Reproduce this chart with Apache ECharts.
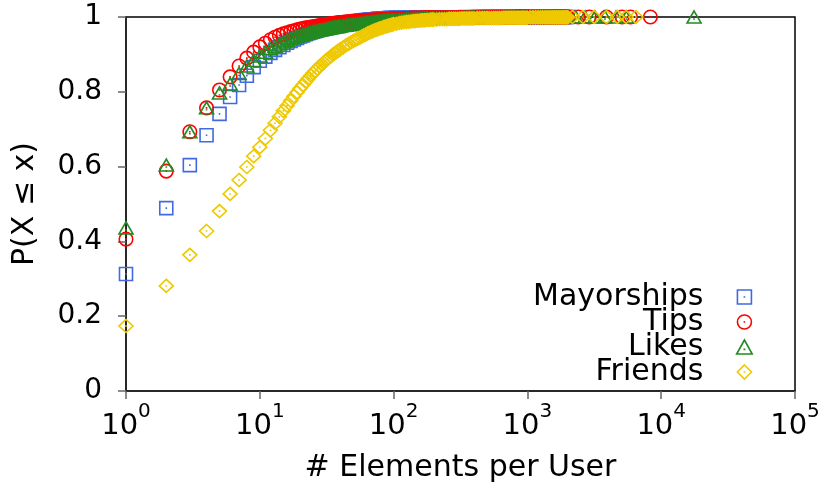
<!DOCTYPE html>
<html>
<head>
<meta charset="utf-8">
<script src="https://cdn.jsdelivr.net/npm/echarts@6/dist/echarts.min.js"></script>
<style>
  html, body { margin: 0; padding: 0; background: #ffffff; }
  #chart { width: 823px; height: 484px; }
</style>
</head>
<body>
<div id="chart"></div>
<script>
// Number of elements per user (x) at which the empirical CDF is sampled
const elementCounts = [
  1,2,3,4,5,6,7,8,9,10,11,12,13,14,15,16,17,18,19,20,
  21,22,23,24,25,26,27,28,29,30,31,32,33,34,35,36,37,38,39,40,
  42,44,46,48,50,52,54,56,58,60,62,64,66,68,70,72,74,76,78,80,
  82,84,86,88,90,92,94,96,98,100,
  105,110,115,120,125,130,135,140,145,150,155,160,165,170,175,180,185,190,195,200,
  210,220,230,240,250,260,270,280,290,300,310,320,330,340,350,360,370,380,390,400,
  420,440,460,480,500,520,540,560,580,600,620,640,660,680,700,720,740,760,780,800,
  820,840,860,880,900,920,940,960,980,1000,
  1050,1100,1150,1200,1250,1300,1350,1400,1450,1500,1550,1600,1650,1700,1750,1800,1850,1900,1950,2000
];

// P(X <= x) for each data set, aligned with elementCounts
const mayorshipsCdf = [
  .313,.489,.604,.684,.741,.786,.818,.843,.866,.883,
  .894,.904,.912,.919,.925,.931,.936,.940,.944,.948,
  .951,.954,.957,.959,.961,.963,.965,.967,.968,.970,
  .971,.973,.974,.975,.976,.977,.978,.979,.980,.981,
  .982,.984,.985,.986,.987,.988,.989,.990,.990,.991,
  .992,.992,.993,.993,.994,.994,.994,.995,.995,.995,
  .996,.996,.996,.996,.996,.997,.997,.997,.997,.997,
  .998,.998,.998,.998,.998,.998,.998,.998,.998,.998,
  .999,.999,.999,.999,.999,.999,.999,.999,.999,.999,
  .999,.999,.999,.999,.999,.999,.999,.999,.999,.999,
  .999,.999,.999,.999,.999,.999,.999,.999,.999,.999,
  1,1,1,1,1,1,1,1,1,1,
  1,1,1,1,1,1,1,1,1,1,
  1,1,1,1,1,1,1,1,1,1,
  1,1,1,1,1,1,1,1,1,1,
  1,1,1,1,1,1,1,1,1,1
];
const tipsCdf = [
  .406,.588,.693,.757,.805,.840,.869,.890,.906,.920,
  .930,.939,.946,.951,.955,.958,.961,.963,.966,.968,
  .969,.971,.972,.973,.974,.975,.976,.977,.978,.979,
  .980,.980,.981,.982,.982,.983,.984,.984,.985,.985,
  .986,.987,.987,.988,.988,.989,.989,.990,.990,.990,
  .991,.991,.991,.992,.992,.992,.992,.993,.993,.993,
  .993,.994,.994,.994,.994,.994,.994,.995,.995,.995,
  .995,.996,.996,.996,.996,.996,.997,.997,.997,.997,
  .997,.997,.997,.998,.998,.998,.998,.998,.998,.998,
  .998,.998,.998,.998,.998,.998,.998,.998,.998,.998,
  .999,.999,.999,.999,.999,.999,.999,.999,.999,.999,
  .999,.999,.999,.999,.999,.999,.999,.999,.999,.999,
  .999,.999,.999,.999,.999,.999,.999,.999,.999,.999,
  1,1,1,1,1,1,1,1,1,1,
  1,1,1,1,1,1,1,1,1,1,
  1,1,1,1,1,1,1,1,1,1
];
const likesCdf = [
  .436,.604,.693,.757,.797,.821,.849,.869,.884,.896,
  .906,.915,.922,.928,.933,.938,.942,.945,.948,.951,
  .953,.955,.957,.959,.961,.962,.964,.965,.966,.967,
  .968,.969,.970,.971,.972,.973,.974,.974,.975,.976,
  .977,.978,.979,.980,.981,.981,.982,.983,.983,.984,
  .985,.985,.986,.986,.987,.987,.988,.988,.988,.989,
  .989,.990,.990,.990,.990,.991,.991,.991,.991,.992,
  .992,.993,.993,.993,.994,.994,.994,.994,.995,.995,
  .995,.995,.996,.996,.996,.996,.996,.996,.997,.997,
  .997,.997,.997,.997,.997,.998,.998,.998,.998,.998,
  .998,.998,.998,.998,.998,.999,.999,.999,.999,.999,
  .999,.999,.999,.999,.999,.999,.999,.999,.999,.999,
  .999,.999,.999,.999,.999,.999,.999,.999,.999,.999,
  .999,.999,.999,.999,.999,.999,.999,.999,.999,.999,
  1,1,1,1,1,1,1,1,1,1,
  1,1,1,1,1,1,1,1,1,1
];
const friendsCdf = [
  .174,.281,.364,.428,.481,.527,.564,.599,.628,.652,
  .675,.697,.716,.733,.749,.763,.776,.788,.799,.809,
  .818,.827,.835,.843,.850,.856,.862,.868,.873,.878,
  .883,.887,.891,.895,.899,.902,.905,.908,.911,.914,
  .919,.924,.928,.932,.936,.939,.942,.945,.948,.951,
  .953,.956,.958,.960,.962,.964,.966,.967,.969,.970,
  .971,.973,.974,.975,.976,.977,.978,.979,.980,.981,
  .982,.984,.985,.986,.987,.987,.988,.989,.989,.990,
  .990,.991,.991,.991,.992,.992,.992,.993,.993,.993,
  .993,.994,.994,.994,.994,.995,.995,.995,.995,.995,
  .995,.996,.996,.996,.996,.996,.996,.996,.996,.996,
  .997,.997,.997,.997,.997,.997,.997,.997,.997,.997,
  .997,.997,.998,.998,.998,.998,.998,.998,.998,.998,
  .998,.998,.998,.998,.998,.998,.998,.998,.998,.998,
  .999,.999,.999,.999,.999,.999,.999,.999,.999,.999,
  .999,.999,.999,.999,.999,.999,.999,.999,.999,.999
];

// Sparse heavy-tail users beyond the dense range
const tipsTailX = [2400, 2900, 3900, 5100, 5900, 8300];
const tipsTailY = [1, 1, 1, 1, 1, 1];
const likesTailX = [2300, 2700, 3200, 3800, 4600, 5500, 17600];
const likesTailY = [1, 1, 1, 1, 1, 1, 1];
const friendsTailX = [2170, 2600, 3150, 3900, 4700, 5460, 6470];
const friendsTailY = [1, 1, 1, 1, 1, 1, 1];

const seriesNames = ['Mayorships', 'Tips', 'Likes', 'Friends'];
const xTickExponents = [0, 1, 2, 3, 4, 5];

// Open marker outlines, each with a small dot at its centre
const MARKERS = {
  square:   'path://M0,0L10,0L10,10L0,10Z M4.4,5L5.6,5',
  circle:   'path://M10,5A5,5 0 1 1 0,5A5,5 0 1 1 10,5Z M4.4,5L5.6,5',
  triangle: 'path://M5,0L10,9L0,9Z M4.4,6L5.6,6',
  diamond:  'path://M5,0L10,5L5,10L0,5Z M4.4,5L5.6,5'
};

const FONT = 'DejaVu Sans';

function pairs(xs, ys) {
  return ys.map((y, i) => [xs[i], y]);
}

function cdfSeries(name, ys, tailX, tailY, color, symbol, size) {
  return {
    type: 'scatter',
    name: name,
    symbol: symbol,
    symbolSize: size,
    clip: false,
    silent: true,
    animation: false,
    itemStyle: { color: 'rgba(0,0,0,0)', borderColor: color, borderWidth: 1.6, opacity: 1 },
    emphasis: { disabled: true },
    data: pairs(elementCounts, ys).concat(pairs(tailX, tailY))
  };
}

const chart = echarts.init(document.getElementById('chart'), null, { renderer: 'canvas' });

chart.setOption({
  animation: false,
  backgroundColor: '#ffffff',
  grid: {
    left: 126, right: 28, top: 17, bottom: 93,
    show: true, borderColor: '#000', borderWidth: 1.5,
    outerBoundsMode: 'none'
  },
  legend: {
    orient: 'vertical',
    align: 'right',
    right: 65,
    top: 277,
    itemWidth: 72,
    itemHeight: 14,
    itemGap: -5,
    selectedMode: false,
    data: seriesNames,
    itemStyle: { borderWidth: 1.6 },
    textStyle: { fontSize: 30, fontFamily: FONT, color: '#000' }
  },
  xAxis: {
    type: 'log',
    logBase: 10,
    min: Math.pow(10, xTickExponents[0]),
    max: Math.pow(10, xTickExponents[xTickExponents.length - 1]),
    splitNumber: 5,
    axisLine: { show: true, onZero: false, lineStyle: { color: '#222', width: 1.5 } },
    axisTick: { show: true, inside: false, length: 8, lineStyle: { color: '#666', width: 1.5 } },
    minorTick: { show: false },
    splitLine: { show: false },
    axisLabel: {
      margin: 11,
      color: '#000',
      formatter: v => '{b|10}{s|' + Math.round(Math.log10(v)) + '}',
      rich: {
        b: { fontSize: 29, fontFamily: FONT, color: '#000', verticalAlign: 'bottom', padding: [10, 0, 0, 0] },
        s: { fontSize: 20, fontFamily: FONT, color: '#000', verticalAlign: 'top' }
      }
    },
    name: '# Elements per User',
    nameLocation: 'middle',
    nameGap: 62,
    nameMoveOverlap: false,
    nameTextStyle: { fontSize: 30, fontFamily: FONT, color: '#000' }
  },
  yAxis: {
    type: 'value',
    min: 0,
    max: 1,
    interval: 0.2,
    axisLine: { show: true, onZero: false, lineStyle: { color: '#222', width: 1.5 } },
    axisTick: { show: true, inside: false, length: 8, lineStyle: { color: '#666', width: 1.5 } },
    splitLine: { show: false },
    axisLabel: {
      margin: 24,
      color: '#000',
      fontSize: 28,
      fontFamily: FONT,
      formatter: v => String(Math.round(v * 10) / 10)
    },
    name: 'P(X \u2264 x)',
    nameLocation: 'middle',
    nameGap: 86,
    nameMoveOverlap: false,
    nameTextStyle: { fontSize: 30, fontFamily: FONT, color: '#000' }
  },
  series: [
    cdfSeries(seriesNames[0], mayorshipsCdf, [], [], '#4169e1', MARKERS.square, 13),
    cdfSeries(seriesNames[1], tipsCdf, tipsTailX, tipsTailY, '#ff0000', MARKERS.circle, 13.5),
    cdfSeries(seriesNames[2], likesCdf, likesTailX, likesTailY, '#228b22', MARKERS.triangle, [14, 12]),
    cdfSeries(seriesNames[3], friendsCdf, friendsTailX, friendsTailY, '#eec900', MARKERS.diamond, [14, 13])
  ]
});
</script>
</body>
</html>
